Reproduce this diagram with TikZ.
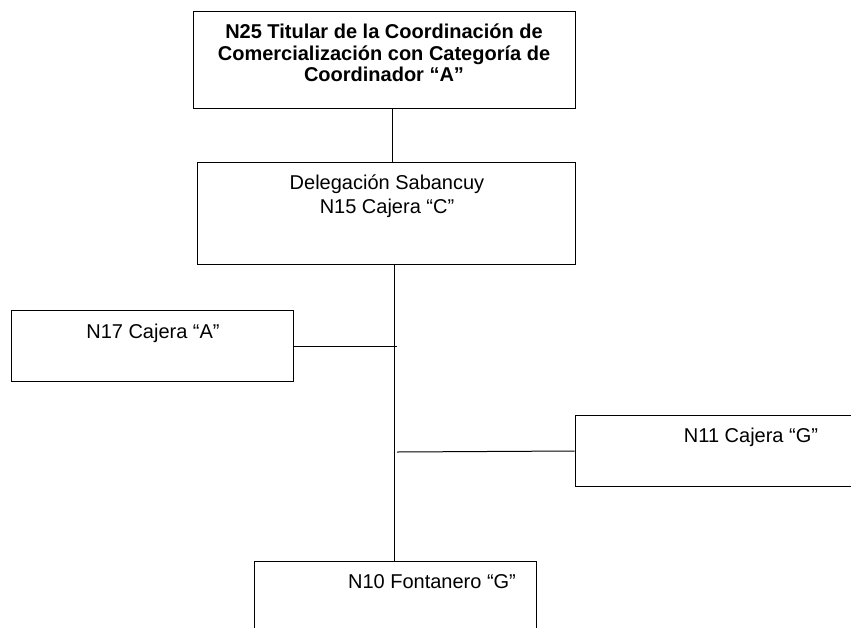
\documentclass[tikz,border=0pt]{standalone}
\usepackage{fontspec}
\setmainfont{Liberation Sans}
\begin{document}
\begin{tikzpicture}[x=1pt,y=-1pt,
  box/.style={draw=black, line width=1pt, inner sep=0pt, rectangle},
  lbl/.style={anchor=base, inner sep=0pt, font=\fontsize{20}{23}\selectfont},
  blbl/.style={lbl, font=\fontsize{20}{23}\selectfont\bfseries},
  conn/.style={draw=black, line width=1pt}]
\useasboundingbox (0,0) rectangle (851,627);
\clip (0,0) rectangle (851,627);
\fill[white] (0,0) rectangle (851,627);
% boxes
\node[box, minimum width=382pt, minimum height=97pt] (top) at (384,59.5) {};
\node[box, minimum width=378pt, minimum height=102pt] (del) at (386,213) {};
\node[box, minimum width=282pt, minimum height=71pt] (caja) at (152,345.5) {};
\node[box, minimum width=290pt, minimum height=71pt] (cajg) at (720,450.5) {};
\node[box, minimum width=282pt, minimum height=80pt] (font) at (395,601) {};
% texts
\node[blbl] (t1) at (384,38) {N25 Titular de la Coordinación de};
\node[blbl] (t2) at (384,60) {Comercialización con Categoría de};
\node[blbl] (t3) at (384,81.7) {Coordinador “A”};
\node[lbl] (d1) at (387,189) {Delegación Sabancuy};
\node[lbl] (d2) at (387,213) {N15 Cajera “C”};
\node[lbl] (a1) at (153,338) {N17 Cajera “A”};
\node[lbl] (g1) at (751,442) {N11 Cajera “G”};
\node[lbl] (f1) at (432,588) {N10 Fontanero “G”};
% connectors
\coordinate (tc) at (392,108);
\coordinate (dc) at (394,264);
\coordinate (fc) at (394,561);
\coordinate (ja) at (397,346);
\coordinate (jg) at (397,452);
\draw[conn] (top.south -| tc) -- (del.north -| tc);
\draw[conn] (del.south -| dc) -- (font.north -| fc);
\draw[conn] (caja.east |- ja) -- (ja);
\draw[conn] (jg) -- (cajg.west |- 0,451);
\end{tikzpicture}
\end{document}
